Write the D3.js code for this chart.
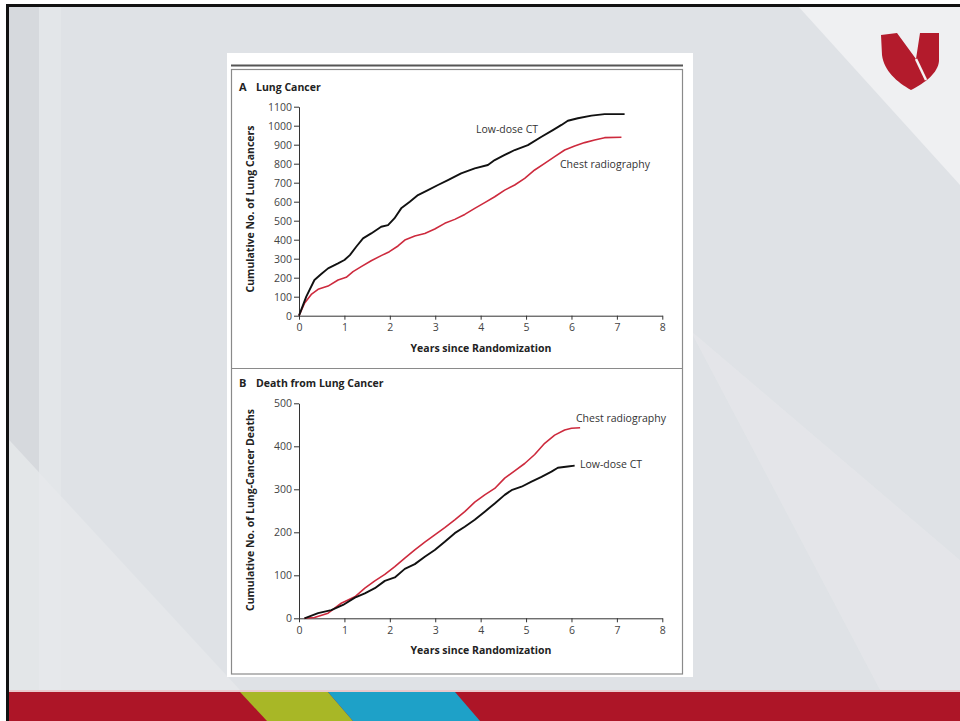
<!DOCTYPE html>
<html>
<head>
<meta charset="utf-8">
<script src="https://cdn.jsdelivr.net/npm/d3@7"></script>
<style>
  body { margin: 0; background: #ffffff; }
  svg { display: block; font-family: "Open Sans", sans-serif; }
</style>
</head>
<body>
<div id="chart"></div>
<script>
/* DATA */
const xTicks = [0, 1, 2, 3, 4, 5, 6, 7, 8];
const lungTicks = [0, 100, 200, 300, 400, 500, 600, 700, 800, 900, 1000, 1100];
const deathTicks = [0, 100, 200, 300, 400, 500];

// A: cumulative lung cancers
const lungCtYears = [0, 0.16, 0.34, 0.49, 0.64, 0.86, 1.0, 1.12, 1.26, 1.41, 1.59, 1.81, 1.96, 2.1, 2.25, 2.44, 2.62, 2.84, 3.06, 3.28, 3.57, 3.87, 4.16, 4.31, 4.53, 4.75, 5.04, 5.34, 5.59, 5.78, 5.92, 6.14, 6.44, 6.73, 7.17];
const lungCtCounts = [0, 100, 188, 219, 249, 275, 293, 319, 363, 407, 433, 468, 477, 512, 565, 600, 635, 661, 688, 714, 749, 775, 793, 819, 846, 872, 898, 942, 977, 1004, 1026, 1039, 1053, 1061, 1061];
const lungCxrYears = [0, 0.12, 0.27, 0.42, 0.64, 0.86, 1.04, 1.19, 1.37, 1.59, 1.81, 1.99, 2.18, 2.33, 2.55, 2.77, 2.99, 3.21, 3.43, 3.65, 3.87, 4.09, 4.31, 4.53, 4.75, 4.97, 5.19, 5.41, 5.63, 5.85, 6.07, 6.29, 6.51, 6.73, 7.1];
const lungCxrCounts = [0, 65, 112, 139, 156, 188, 202, 232, 258, 289, 316, 337, 367, 398, 419, 433, 456, 486, 507, 533, 565, 595, 626, 661, 688, 723, 767, 802, 837, 872, 893, 911, 925, 937, 939];

// B: cumulative lung-cancer deaths
const deathCtYears = [0.12, 0.42, 0.71, 0.97, 1.23, 1.45, 1.67, 1.89, 2.11, 2.33, 2.55, 2.77, 2.99, 3.21, 3.43, 3.65, 3.87, 4.09, 4.31, 4.53, 4.68, 4.9, 5.12, 5.34, 5.56, 5.7, 5.92, 6.07];
const deathCtCounts = [0, 12, 19, 31, 48, 58, 70, 87, 95, 115, 126, 143, 159, 178, 198, 213, 229, 248, 267, 287, 298, 306, 318, 329, 341, 350, 353, 355];
const deathCxrYears = [0.12, 0.34, 0.64, 0.93, 1.23, 1.45, 1.67, 1.89, 2.11, 2.33, 2.55, 2.77, 2.99, 3.21, 3.43, 3.65, 3.87, 4.09, 4.31, 4.53, 4.75, 4.97, 5.19, 5.41, 5.63, 5.85, 6.0, 6.19];
const deathCxrCounts = [0, 2, 12, 35, 50, 70, 87, 102, 120, 140, 159, 177, 194, 211, 229, 248, 270, 287, 302, 326, 343, 360, 381, 407, 426, 438, 442, 443];

const W = 960, H = 721;
const inkRed = "#cd2a3d";

const svg = d3.select("#chart").append("svg")
  .attr("width", W)
  .attr("height", H);

/* SLIDE BACKGROUND */
svg.append("rect").attr("width", W).attr("height", H).attr("fill", "#dfe2e6");
// soft vertical bands on the left
svg.append("rect").attr("x", 9).attr("y", 0).attr("width", 30).attr("height", 690).attr("fill", "#d6d9dd");
svg.append("rect").attr("x", 39).attr("y", 0).attr("width", 22).attr("height", 690).attr("fill", "#e3e6e9");
// lighter diagonal facets
svg.append("polygon").attr("points", "797,5 960,5 960,185").attr("fill", "#eff0f2");
svg.append("polygon").attr("points", "0,430 240,690 0,690").attr("fill", "#e6e8eb").attr("opacity", 0.8);
svg.append("polygon").attr("points", "690,330 960,560 960,690 880,690").attr("fill", "#e5e7ea").attr("opacity", 0.7);

// bottom ribbon
svg.append("rect").attr("x", 0).attr("y", 690).attr("width", W).attr("height", 2).attr("fill", "#e9c9cc");
svg.append("rect").attr("x", 0).attr("y", 692).attr("width", W).attr("height", 29).attr("fill", "#ad1527");
svg.append("polygon").attr("points", "240,692 328,692 353,721 267,721").attr("fill", "#a8b726");
svg.append("polygon").attr("points", "328,692 455,692 480,721 353,721").attr("fill", "#1ea1c8");

// frame of the slide
svg.append("rect").attr("x", 0).attr("y", 0).attr("width", W).attr("height", 4).attr("fill", "#ffffff");
svg.append("rect").attr("x", 0).attr("y", 4).attr("width", W).attr("height", 3).attr("fill", "#111111");
svg.append("rect").attr("x", 0).attr("y", 0).attr("width", 6).attr("height", H).attr("fill", "#ffffff");
svg.append("rect").attr("x", 6).attr("y", 4).attr("width", 3).attr("height", H - 4).attr("fill", "#111111");

// logo (shield N)
const logo = svg.append("g").attr("transform", "translate(881,33)");
logo.append("path")
  .attr("d", "M0,2 L16,0 L35,26 L39,0 L58,0 L58,28 C57,40 44,50 30,57 C16,49 3,38 1,22 Z")
  .attr("fill", "#b31b2c");
logo.append("path")
  .attr("d", "M35,26 L45,47")
  .attr("stroke", "#f4f4f4").attr("stroke-width", 2.5);

/* FIGURE CARD */
svg.append("rect").attr("x", 227).attr("y", 53).attr("width", 466).attr("height", 624).attr("fill", "#ffffff");
svg.append("line").attr("x1", 231).attr("x2", 683).attr("y1", 65.5).attr("y2", 65.5)
  .attr("stroke", "#555").attr("stroke-width", 2);
svg.append("rect").attr("x", 231.5).attr("y", 69.5).attr("width", 451).attr("height", 604.5)
  .attr("fill", "none").attr("stroke", "#8a8a8a").attr("stroke-width", 1.2);
svg.append("line").attr("x1", 231.5).attr("x2", 682.5).attr("y1", 368.5).attr("y2", 368.5)
  .attr("stroke", "#8a8a8a").attr("stroke-width", 1.2);

/* PANELS */
function drawPanel(cfg) {
  const xScale = d3.scaleLinear().domain([0, 8]).range([299, 662.3]);
  const yScale = d3.scaleLinear().domain(cfg.yDomain).range(cfg.yRange);

  const g = svg.append("g");

  // title
  g.append("text")
    .attr("x", 239).attr("y", cfg.titleY)
    .attr("font-size", 11).attr("font-weight", "bold").attr("fill", "#222")
    .text(cfg.letter);
  g.append("text")
    .attr("x", 256).attr("y", cfg.titleY)
    .attr("font-size", 10.5).attr("font-weight", "bold").attr("fill", "#222")
    .text(cfg.title);

  const xAxis = d3.axisBottom(xScale).tickValues(xTicks).tickFormat(d3.format("d"))
    .tickSize(4).tickSizeOuter(0).tickPadding(4);
  const yAxis = d3.axisLeft(yScale).tickValues(cfg.yTicks).tickFormat(d3.format("d"))
    .tickSize(5).tickSizeOuter(0).tickPadding(2);

  const xg = g.append("g")
    .attr("transform", `translate(0, ${cfg.yRange[0]})`)
    .call(xAxis);
  const yg = g.append("g")
    .attr("transform", "translate(299, 0)")
    .call(yAxis);

  [xg, yg].forEach(ax => {
    ax.select(".domain").attr("stroke", "#333").attr("stroke-width", 1);
    ax.selectAll(".tick line").attr("stroke", "#333");
    ax.selectAll(".tick text").attr("fill", "#444").attr("font-size", 10.5)
      .attr("font-family", "Open Sans, sans-serif");
  });

  // axis titles
  g.append("text")
    .attr("x", 481).attr("y", cfg.yRange[0] + 36)
    .attr("text-anchor", "middle")
    .attr("font-size", 10.5).attr("font-weight", "bold").attr("fill", "#222")
    .text("Years since Randomization");
  g.append("text")
    .attr("transform", `translate(254, ${cfg.yTitleCenter}) rotate(-90)`)
    .attr("text-anchor", "middle")
    .attr("font-size", 10.5).attr("font-weight", "bold").attr("fill", "#222")
    .text(cfg.yTitle);

  const line = d3.line()
    .x(d => xScale(d[0]))
    .y(d => yScale(d[1]));

  cfg.series.forEach(s => {
    g.append("path")
      .datum(d3.zip(s.years, s.counts))
      .attr("fill", "none")
      .attr("stroke", s.color)
      .attr("stroke-width", s.width)
      .attr("stroke-linejoin", "round")
      .attr("d", line);
    g.append("text")
      .attr("x", s.labelX).attr("y", s.labelY)
      .attr("font-size", 10.5).attr("fill", "#333")
      .text(s.name);
  });
}

drawPanel({
  letter: "A", title: "Lung Cancer", titleY: 91,
  yDomain: [0, 1100], yRange: [315.7, 106.7], yTicks: lungTicks,
  yTitle: "Cumulative No. of Lung Cancers", yTitleCenter: 209,
  series: [
    { name: "Chest radiography", years: lungCxrYears, counts: lungCxrCounts, color: inkRed, width: 1.6, labelX: 560, labelY: 168 },
    { name: "Low-dose CT", years: lungCtYears, counts: lungCtCounts, color: "#111", width: 1.9, labelX: 476, labelY: 133 }
  ]
});

drawPanel({
  letter: "B", title: "Death from Lung Cancer", titleY: 387,
  yDomain: [0, 500], yRange: [618.3, 403.3], yTicks: deathTicks,
  yTitle: "Cumulative No. of Lung-Cancer Deaths", yTitleCenter: 510,
  series: [
    { name: "Chest radiography", years: deathCxrYears, counts: deathCxrCounts, color: inkRed, width: 1.6, labelX: 576, labelY: 422 },
    { name: "Low-dose CT", years: deathCtYears, counts: deathCtCounts, color: "#111", width: 1.9, labelX: 580, labelY: 468 }
  ]
});
</script>
</body>
</html>
